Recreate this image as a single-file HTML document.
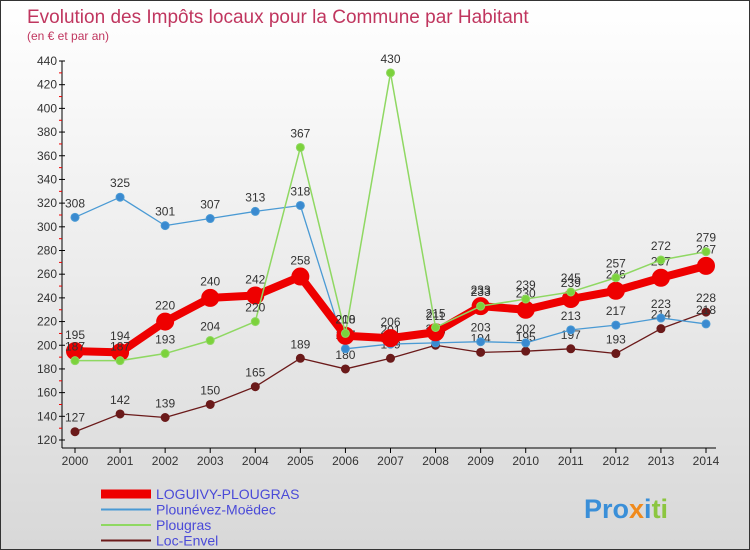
<!DOCTYPE html>
<html><head><meta charset="utf-8"><style>
html,body{margin:0;padding:0}
body{width:750px;height:550px;overflow:hidden;font-family:"Liberation Sans","DejaVu Sans",sans-serif}
#wrap{position:relative;width:748px;height:548px;border:1px solid #333;background:linear-gradient(#fff,#d8d8d8)}
</style></head><body>
<div id="wrap">
<svg id="chart" width="748" height="548" style="position:absolute;left:0;top:0">
<text x="26" y="22" font-size="19" fill="#c0365f">Evolution des Impôts locaux pour la Commune par Habitant</text>
<text x="26" y="39" font-size="12" fill="#c0365f">(en € et par an)</text>
<g id="axes"></g><g id="series"></g>
<g id="legend"></g>
<text x="583" y="517" font-size="27" font-weight="bold"><tspan fill="#3a8fd8">Pro</tspan><tspan fill="#f08a1c">x</tspan><tspan fill="#3a8fd8">i</tspan><tspan fill="#8cc63f">ti</tspan></text>
</svg>
</div>
<script>
const years=[2000,2001,2002,2003,2004,2005,2006,2007,2008,2009,2010,2011,2012,2013,2014];
const yTicks=[120,140,160,180,200,220,240,260,280,300,320,340,360,380,400,420,440];
const loguivy=[195,194,220,240,242,258,208,206,211,233,230,239,246,257,267];
const plounevez=[308,325,301,307,313,318,197,201,202,203,202,213,217,223,218];
const plougras=[187,187,193,204,220,367,210,430,215,233,239,245,257,272,279];
const locEnvel=[127,142,139,150,165,189,180,189,200,194,195,197,193,214,228];
const seriesNames=["LOGUIVY-PLOUGRAS","Plounévez-Moëdec","Plougras","Loc-Envel"];
const NS="http://www.w3.org/2000/svg";
const X0=74,X1=705,Y0=439,Y1=60,VMIN=120,VMAX=440;
function sx(i){return X0+(X1-X0)*i/(years.length-1);}
function sy(v){return Y0-(v-VMIN)/(VMAX-VMIN)*(Y0-Y1);}
function mk(tag,attrs,parent){const e=document.createElementNS(NS,tag);for(const k in attrs)e.setAttribute(k,attrs[k]);parent.appendChild(e);return e;}
const axes=document.getElementById('axes');
let ax=mk('line',{x1:X0-13,y1:Y1,x2:X0-13,y2:Y0+8,stroke:'#000'},axes);

let bx=mk('line',{x1:X0-13,y1:Y0+8,x2:X1+10,y2:Y0+8,stroke:'#000'},axes);

yTicks.forEach((t,k)=>{const y=sy(t);
 mk('line',{x1:X0-16,y1:y,x2:X0-10,y2:y,stroke:'#000'},axes);
 if(k<yTicks.length-1) mk('line',{x1:X0-16,y1:y-11.8,x2:X0-13,y2:y-11.8,stroke:'#e00'},axes);
 const tx=mk('text',{x:X0-18,y:y+4,'font-size':12,'text-anchor':'end',fill:'#333'},axes);tx.textContent=t;
 });
years.forEach((yr,i)=>{const x=sx(i);
 mk('line',{x1:x,y1:Y0+8,x2:x,y2:Y0+13,stroke:'#000'},axes);
 const tx=mk('text',{x:x,y:Y0+25,'font-size':12,'text-anchor':'middle',fill:'#333'},axes);tx.textContent=yr;
 });
const sg=document.getElementById('series');
function draw(data,color,w,r,name,fill){
 const g=mk('g',{},sg);
 mk('polyline',{points:data.map((v,i)=>sx(i)+','+sy(v)).join(' '),fill:'none',stroke:color,'stroke-width':w,'stroke-linejoin':'round'},g);
 data.forEach((v,i)=>{const c=mk('circle',{cx:sx(i),cy:sy(v),r:r,fill:fill,stroke:color,'stroke-width':1},g);
  
  const t=mk('text',{x:sx(i),y:sy(v)-8-r/2,'font-size':12,'text-anchor':'middle',fill:'#333'},g);t.textContent=v;});
}
draw(locEnvel,'#6b1a1a',1.3,4,'series-loc-envel','#6b1a1a');
draw(plounevez,'#4a9ad4',1.3,4,'series-plounevez-moedec','#3a8ad0');
draw(loguivy,'#ee0000',8,8.5,'series-loguivy-plougras','#ee0000');
draw(plougras,'#8fd862',1.5,4,'series-plougras','#7cd23c');
const lg=document.getElementById('legend');
const lc=['#ee0000','#4a9ad4','#8fd862','#6b1a1a'],lw=[9,2,2,2];
seriesNames.forEach((n,i)=>{const y=493+i*15.5;
 const l=mk('line',{x1:100,y1:y,x2:150,y2:y,stroke:lc[i],'stroke-width':lw[i]},lg);
 
 const t=mk('text',{x:155,y:y+5,'font-size':14,fill:'#4a4ad8'},lg);t.textContent=n;
 });
</script>
</body></html>
